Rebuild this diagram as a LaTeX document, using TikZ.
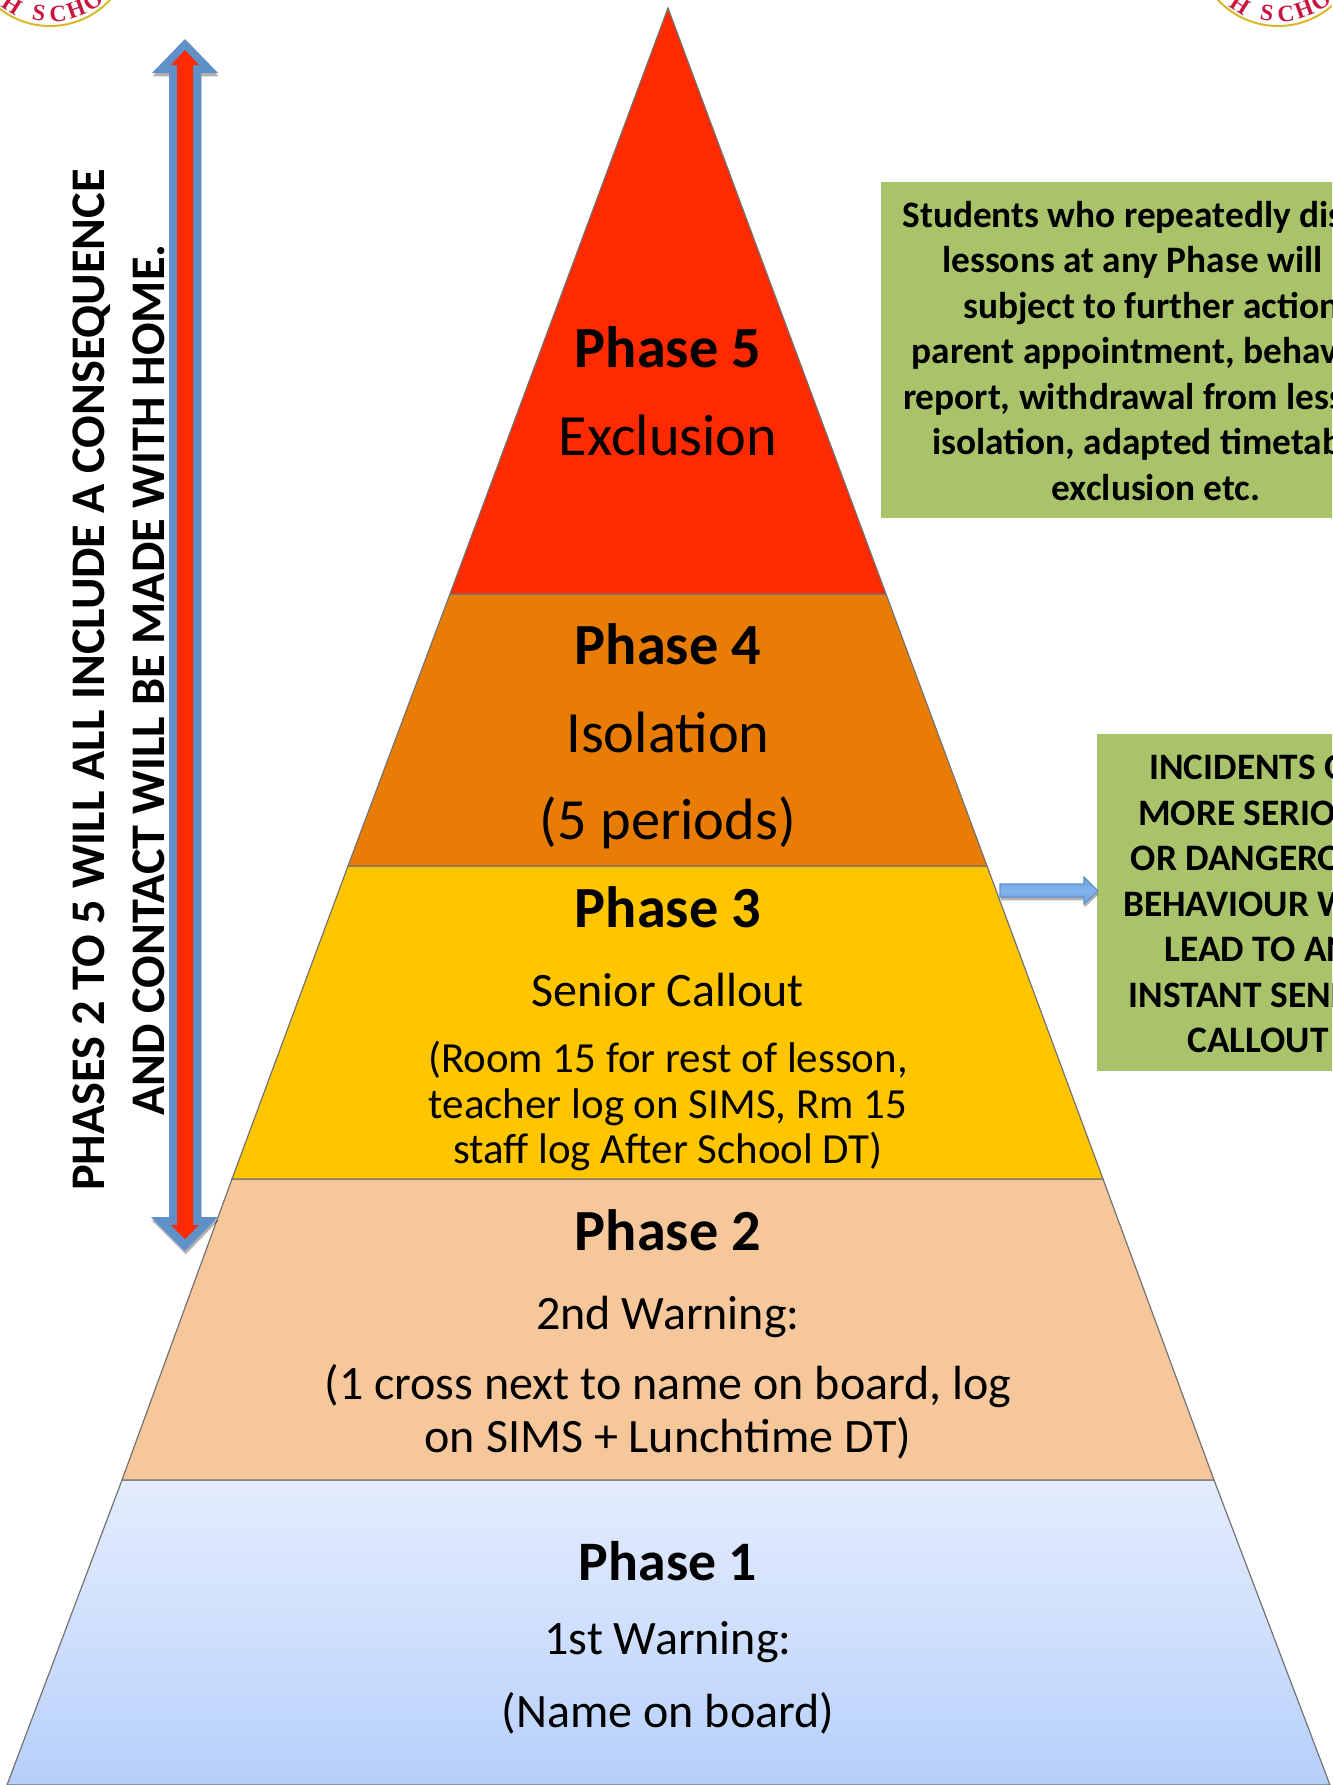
\documentclass[tikz,border=0pt]{standalone}
\usepackage{fontspec}
\setmainfont{Carlito}
\newfontfamily\crestfont{Liberation Serif}
\usetikzlibrary{shadows,calc}
\definecolor{pFive}{HTML}{FF2A00}
\definecolor{pFour}{HTML}{E87C04}
\definecolor{pThree}{HTML}{FFC600}
\definecolor{pTwo}{HTML}{F6C79B}
\definecolor{oneTop}{HTML}{E3ECFD}
\definecolor{oneBot}{HTML}{B6CFFB}
\definecolor{boxGreen}{HTML}{A9C36B}
\definecolor{arrBlue}{HTML}{5F90C8}
\definecolor{arrLight}{HTML}{85B4EC}
\definecolor{arrDeep}{HTML}{6C9FDC}
\definecolor{crest}{HTML}{C8143F}
\definecolor{crestGold}{HTML}{D9B92A}
\tikzset{
  tier/.style={draw=black!55!white,line width=0.9pt},
  head/.style={font=\fontsize{43.7}{44}\selectfont\bfseries,anchor=base,inner sep=0pt},
  headone/.style={font=\fontsize{41.8}{42}\selectfont\bfseries,anchor=base,inner sep=0pt},
  big/.style={font=\fontsize{43.8}{44}\selectfont,anchor=base,inner sep=0pt},
  mid/.style={font=\fontsize{36}{36}\selectfont,anchor=base,inner sep=0pt},
  sml/.style={font=\fontsize{32.2}{32}\selectfont,anchor=base,inner sep=0pt},
  sideNote/.style={font=\fontsize{28}{34.1}\selectfont\bfseries,align=center,anchor=north,inner sep=0pt},
  vertNote/.style={font=\fontsize{36.2}{45}\selectfont\bfseries,align=center,rotate=90,inner sep=0pt},
  crestLetter/.style={font=\fontsize{17.5}{18}\crestfont\bfseries\selectfont,text=crest,inner sep=0pt},
  softShadow/.style={drop shadow={shadow xshift=0.5pt,shadow yshift=-2.5pt,opacity=.3,fill=black}}
}
\begin{document}
\begin{tikzpicture}[x=0.75pt,y=-0.75pt]
\useasboundingbox (0,0) rectangle (1332,1785);
\clip (0,0) rectangle (1332,1785);
% crests
\foreach \ox in {0,1228}{
  \begin{scope}[xshift=\ox*0.75pt]
    \draw[crestGold,line width=1.5pt,fill=white] (50,-56) circle[radius=82*0.75pt];
    \node[crestLetter,rotate=-32] (h1\ox) at (12,5) {H};
    \node[crestLetter,rotate=-9] (s\ox) at (39,13) {S};
    \node[crestLetter,rotate=6] (c\ox) at (58,14) {C};
    \node[crestLetter,rotate=20] (h2\ox) at (76,9) {H};
    \node[crestLetter,rotate=37] (o\ox) at (93,1) {O};
  \end{scope}
}
% pyramid
\coordinate (apex) at (668,8);
\coordinate (l5) at (450,594); \coordinate (r5) at (886,594);
\coordinate (l4) at (348,866); \coordinate (r4) at (987,866);
\coordinate (l3) at (232,1179); \coordinate (r3) at (1103,1179);
\coordinate (l2) at (122,1480); \coordinate (r2) at (1214,1480);
\coordinate (l1) at (7,1785); \coordinate (r1) at (1330,1785);
\draw[tier,top color=oneTop,bottom color=oneBot,middle color=oneTop!55!oneBot] (l2)--(r2)--(r1)--(l1)--cycle;
\draw[tier,fill=pTwo] (l3)--(r3)--(r2)--(l2)--cycle;
\draw[tier,fill=pThree] (l4)--(r4)--(r3)--(l3)--cycle;
\draw[tier,fill=pFour] (l5)--(r5)--(r4)--(l4)--cycle;
\draw[tier,fill=pFive] (apex)--(r5)--(l5)--cycle;
% tier text
\node[head] (t5a) at (668,367) {Phase 5};
\node[big] (t5b) at (668,455) {Exclusion};
\node[head] (t4a) at (668,664) {Phase 4};
\node[big] (t4b) at (668,752) {Isolation};
\node[big] (t4c) at (668,839) {(5 periods)};
\node[head] (t3a) at (668,927) {Phase 3};
\node[mid] (t3b) at (668,1006) {Senior Callout};
\node[sml] (t3c) at (668,1072) {(Room 15 for rest of lesson,};
\node[sml] (t3d) at (668,1118) {teacher log on SIMS, Rm 15};
\node[sml] (t3e) at (668,1163) {staff log After School DT)};
\node[head] (t2a) at (668,1250) {Phase 2};
\node[mid] (t2b) at (668,1329) {2nd Warning:};
\node[mid] (t2c) at (668,1399) {(1 cross next to name on board, log};
\node[mid] (t2d) at (668,1452) {on SIMS + Lunchtime DT)};
\node[headone] (t1a) at (668,1580) {Phase 1};
\node[mid] (t1b) at (668,1654) {1st Warning:};
\node[mid] (t1c) at (668,1727) {(Name on board)};
% side boxes
\fill[boxGreen] (881,182) rectangle (1340,518);
\fill[boxGreen] (1097,734) rectangle (1340,1071);
\node[sideNote] (n1) at (1156,201) {Students who repeatedly disrupt\\lessons at any Phase will be\\subject to further action,\hspace*{13pt}\\parent appointment, behaviour\\report, withdrawal from lessons,\\isolation, adapted timetable,\\exclusion etc.};
\node[sideNote] (n2) at (1258,755) {INCIDENTS OF\\MORE SERIOUS\\OR DANGEROUS\\BEHAVIOUR WILL\\LEAD TO AN\\INSTANT SENIOR\\CALLOUT};
% small arrow
\draw[draw=arrBlue,line width=0.8pt,top color=arrDeep,bottom color=arrDeep,middle color=arrLight,softShadow]
  (1000,884)--(1084,884)--(1084,877)--(1098,891)--(1084,904)--(1084,897)--(1000,897)--cycle;
% double arrow
\fill[arrBlue,softShadow] (185,39)--(218,73)--(201,73)--(201,1217)--(218,1217)--(185,1251)--(151,1217)--(169,1217)--(169,73)--(152,73)--cycle;
\fill[pFive] (185,50)--(199,65)--(193,65)--(193,1225)--(199,1225)--(185,1239)--(171,1225)--(177,1225)--(177,65)--(171,65)--cycle;
% vertical text
\node[vertNote] (v) at (119,680) {PHASES 2 TO 5 WILL ALL INCLUDE A CONSEQUENCE\\AND CONTACT WILL BE MADE WITH HOME.};
\end{tikzpicture}
\end{document}
